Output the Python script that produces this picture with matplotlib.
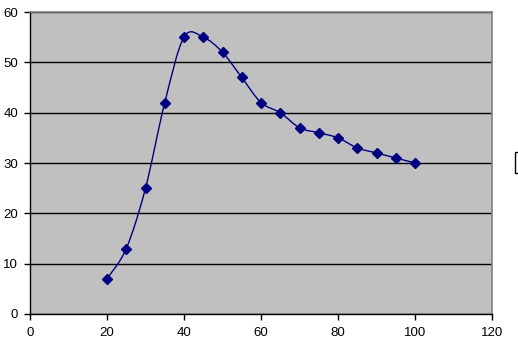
import matplotlib
matplotlib.use("Agg")
import matplotlib.pyplot as plt
import numpy as np
from matplotlib.path import Path
from matplotlib.patches import PathPatch, Rectangle

x_vals = [20, 25, 30, 35, 40, 45, 50, 55, 60, 65, 70, 75, 80, 85, 90, 95, 100]
y_vals = [7, 13, 25, 42, 55, 55, 52, 47, 42, 40, 37, 36, 35, 33, 32, 31, 30]
x_ticks = [0, 20, 40, 60, 80, 100, 120]
y_ticks = [0, 10, 20, 30, 40, 50, 60]

plt.rcParams['font.family'] = ['Liberation Sans', 'DejaVu Sans']

W, H = 518, 346
fig = plt.figure(figsize=(W / 100, H / 100), dpi=100)
ax = fig.add_axes([30 / W, 1 - 314 / H, (492 - 30) / W, (314 - 12) / H])
ax.set_facecolor('#C0C0C0')
ax.set_xlim(0, 120)
ax.set_ylim(0, 60)
ax.set_xticks(x_ticks)
ax.set_yticks(y_ticks)
ax.yaxis.grid(True, color='black', linewidth=1)
ax.set_axisbelow(True)
for s in ['top', 'right']:
    ax.spines[s].set_color('#808080')
    ax.spines[s].set_linewidth(1.2)
for s in ['left', 'bottom']:
    ax.spines[s].set_color('black')
    ax.spines[s].set_linewidth(1)
ax.tick_params(direction='out', length=4, width=1, labelsize=9.5, colors='black')
ax.tick_params(axis='x', pad=5.5)
ax.tick_params(axis='y', pad=4.5)

# smooth Bezier (Catmull-Rom style, like Excel smoothed line)
px = np.array(x_vals, float)
py = np.array(y_vals, float)
n = len(px)
verts = [(px[0], py[0])]
codes = [Path.MOVETO]
for i in range(n - 1):
    p0 = (px[max(i - 1, 0)], py[max(i - 1, 0)])
    p1 = (px[i], py[i])
    p2 = (px[i + 1], py[i + 1])
    p3 = (px[min(i + 2, n - 1)], py[min(i + 2, n - 1)])
    c1 = (p1[0] + (p2[0] - p0[0]) / 6, p1[1] + (p2[1] - p0[1]) / 6)
    c2 = (p2[0] - (p3[0] - p1[0]) / 6, p2[1] - (p3[1] - p1[1]) / 6)
    verts += [c1, c2, p2]
    codes += [Path.CURVE4] * 3
ax.add_patch(PathPatch(Path(verts, codes), facecolor='none', edgecolor='#000080', linewidth=1.0, zorder=3))
ax.plot(x_vals, y_vals, linestyle='none', marker='D', markersize=5, color='#000080', zorder=4)

# clipped legend box at right edge
fig.patches.append(Rectangle((515 / W, 1 - 173 / H), 0.05, 21 / H, transform=fig.transFigure,
                             facecolor='white', edgecolor='black', linewidth=1))

fig.savefig('out.png', dpi=100)
